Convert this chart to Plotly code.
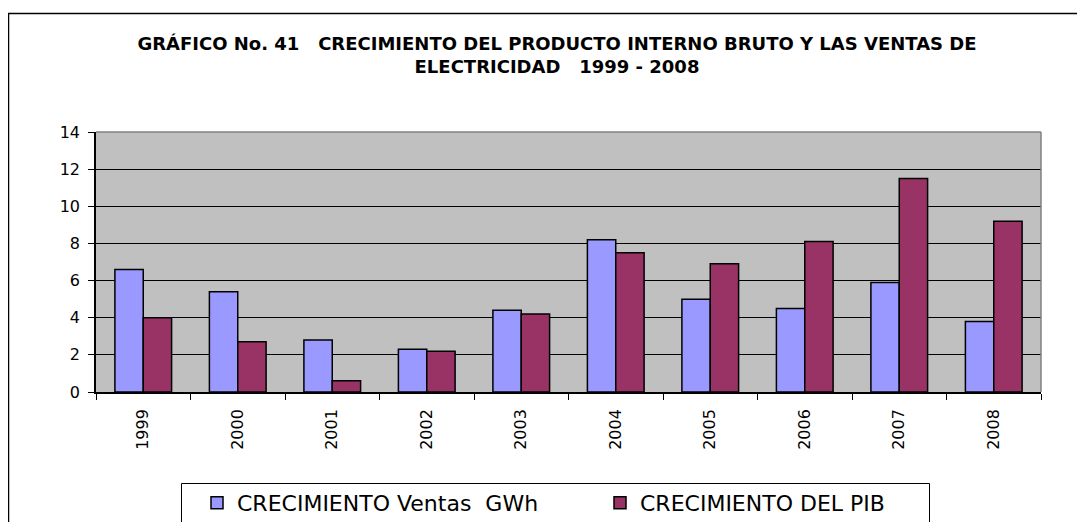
import plotly.graph_objects as go

years = ["1999", "2000", "2001", "2002", "2003", "2004", "2005", "2006", "2007", "2008"]
ventas_gwh = [6.6, 5.4, 2.8, 2.3, 4.4, 8.2, 5.0, 4.5, 5.9, 3.8]
pib = [4.0, 2.7, 0.6, 2.2, 4.2, 7.5, 6.9, 8.1, 11.5, 9.2]
y_ticks = [0, 2, 4, 6, 8, 10, 12, 14]

# page has an 8px body margin, so the figure is drawn 8px smaller
OFF = 8
W, H = 1085 - OFF, 522 - OFF
L, R, T, B = 96 - OFF, 1041 - OFF, 132 - OFF, 392 - OFF

def px(x):
    return (x - OFF - L) / (R - L)

def py(y):
    return (B - (y - OFF)) / (B - T)

font = "DejaVu Sans, Arial, sans-serif"

fig = go.Figure()
fig.add_trace(go.Bar(x=years, y=ventas_gwh, name="CRECIMIENTO Ventas  GWh",
                     marker=dict(color="#9999FF", line=dict(color="black", width=1.5))))
fig.add_trace(go.Bar(x=years, y=pib, name="CRECIMIENTO DEL PIB",
                     marker=dict(color="#993366", line=dict(color="black", width=1.5))))

shapes = [
    # outer chart border (extends past the visible window)
    dict(type="rect", xref="paper", yref="paper", x0=px(8.5), x1=px(1200), y0=py(13.5), y1=py(700),
         line=dict(color="black", width=1.5), fillcolor="rgba(0,0,0,0)", layer="below"),
    # legend box
    dict(type="rect", xref="paper", yref="paper", x0=px(181.5), x1=px(929.5), y0=py(483.5), y1=py(600),
         line=dict(color="black", width=1), fillcolor="rgba(0,0,0,0)"),
    # plot area top/right border (gray)
    dict(type="line", xref="paper", yref="paper", x0=0, x1=1, y0=1, y1=1,
         line=dict(color="#808080", width=1.5)),
    dict(type="line", xref="paper", yref="paper", x0=1, x1=1, y0=0, y1=1,
         line=dict(color="#808080", width=1.5)),
]

fig.update_layout(
    width=W, height=H,
    margin=dict(l=L, r=W - R, t=T, b=H - B),
    paper_bgcolor="white",
    plot_bgcolor="#C0C0C0",
    font=dict(family=font, color="black", size=16),
    barmode="group",
    bargap=0.4,
    bargroupgap=0,
    title=dict(
        text="<b>GRÁFICO No. 41   CRECIMIENTO DEL PRODUCTO INTERNO BRUTO Y LAS VENTAS DE<br>ELECTRICIDAD   1999 - 2008</b>",
        x=(557 - OFF) / W, xanchor="center", xref="container",
        y=1 - 42 / H, yanchor="top", yref="container",
        font=dict(family=font, size=18, color="black"),
    ),
    xaxis=dict(
        type="category",
        tickangle=-90,
        tickson="boundaries",
        ticks="outside", ticklen=6, tickcolor="black", tickwidth=1,
        showline=True, linecolor="black", linewidth=1.5,
        showgrid=False,
        tickfont=dict(size=16),
        ticklabelstandoff=9,
    ),
    yaxis=dict(
        range=[0, 14],
        tickvals=y_ticks,
        ticks="outside", ticklen=6, tickcolor="black", tickwidth=1,
        showline=True, linecolor="black", linewidth=1.5,
        showgrid=True, gridcolor="black", gridwidth=1,
        zeroline=False,
        tickfont=dict(size=16),
        ticklabelstandoff=5,
    ),
    legend=dict(
        orientation="h",
        xref="container", yref="container",
        x=(197 - OFF) / W, xanchor="left",
        y=1 - (482 - OFF) / H, yanchor="top",
        font=dict(family=font, size=22, color="black"),
        bgcolor="rgba(0,0,0,0)",
        entrywidth=358,
        traceorder="normal",
    ),
    shapes=shapes,
    showlegend=True,
)

fig.write_html("out.html")
